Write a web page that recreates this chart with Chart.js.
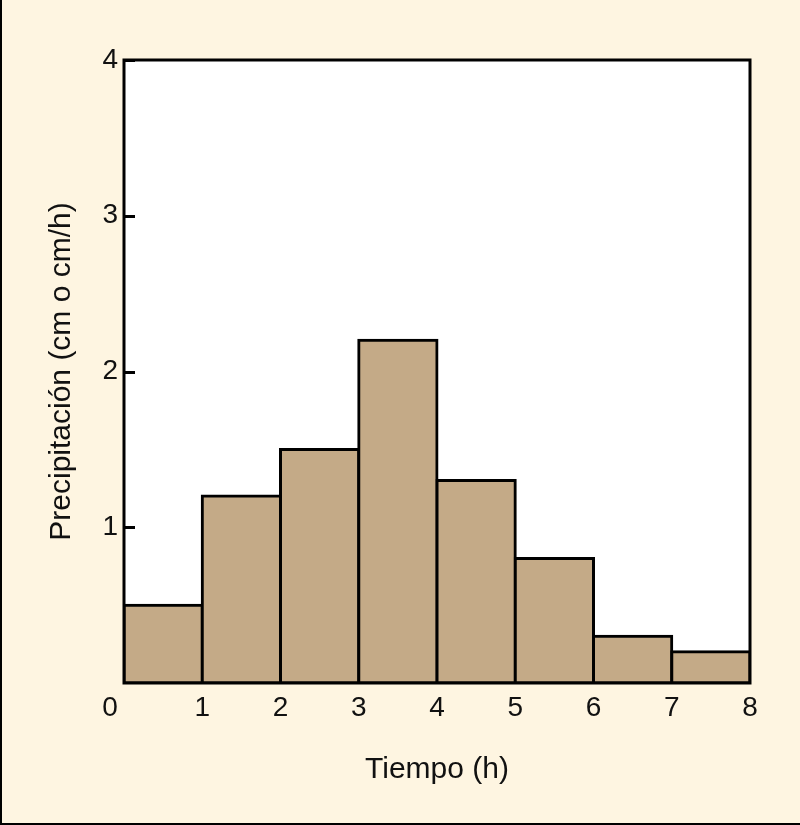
<!DOCTYPE html>
<html>
<head>
<meta charset="utf-8">
<script src="https://cdn.jsdelivr.net/npm/chart.js@4/dist/chart.umd.min.js"></script>
<style>
  html, body { margin: 0; padding: 0; background: #FEF5E1; }
  #wrap { width: 800px; height: 825px; }
</style>
</head>
<body>
<div id="wrap"><canvas id="rainChart" width="800" height="825"></canvas></div>
<script>
// datos del hietograma
const horas = [0.5, 1.5, 2.5, 3.5, 4.5, 5.5, 6.5, 7.5];   // centro de cada intervalo (h)
const precipitacion = [0.5, 1.2, 1.5, 2.2, 1.3, 0.8, 0.3, 0.2];
const ticksX = [0, 1, 2, 3, 4, 5, 6, 7, 8];
const ticksY = [1, 2, 3, 4];

const FONT = '"Liberation Sans", Arial, Helvetica, sans-serif';
const CREMA = '#FEF5E1';
const BARRA = '#C4AA87';

// fondo crema, area blanca, marco exterior y marcas hacia dentro
const fondoPlugin = {
  id: 'fondo',
  beforeDraw(chart) {
    const { ctx, chartArea: a, width, height } = chart;
    ctx.save();
    ctx.fillStyle = CREMA;
    ctx.fillRect(0, 0, width, height);
    ctx.fillStyle = '#ffffff';
    ctx.fillRect(a.left, a.top, a.right - a.left, a.bottom - a.top);
    ctx.strokeStyle = '#000';
    ctx.lineWidth = 2;
    ctx.beginPath();
    ctx.moveTo(1, 0);
    ctx.lineTo(1, height - 1);
    ctx.lineTo(width, height - 1);
    ctx.stroke();
    ctx.restore();
  },
  afterDatasetsDraw(chart) {
    const { ctx, chartArea: a } = chart;
    const y = chart.scales.y;
    ctx.save();
    ctx.strokeStyle = '#000';
    ctx.lineWidth = 3;
    ctx.beginPath();
    ticksY.forEach(v => {
      const py = Math.round(y.getPixelForValue(v)) + 0.5;
      ctx.moveTo(a.left, py);
      ctx.lineTo(a.left + 11, py);
    });
    ctx.stroke();
    ctx.strokeRect(a.left, a.top, a.right - a.left, a.bottom - a.top);
    ctx.restore();
  }
};

const ctx = document.getElementById('rainChart').getContext('2d');
new Chart(ctx, {
  type: 'bar',
  data: {
    datasets: [{
      data: horas.map((h, i) => ({ x: h, y: precipitacion[i] })),
      backgroundColor: BARRA,
      borderColor: '#000',
      borderWidth: 3,
      borderSkipped: false,
      inflateAmount: 1.5,
      barPercentage: 1,
      categoryPercentage: 1
    }]
  },
  options: {
    responsive: false,
    animation: false,
    events: [],
    layout: { padding: { top: 60, right: 50, left: 0, bottom: 0 } },
    plugins: { legend: { display: false }, tooltip: { enabled: false } },
    scales: {
      x: {
        type: 'linear',
        offset: false,
        min: 0,
        max: 8,
        afterBuildTicks: s => { s.ticks = ticksX.map(v => ({ value: v })); },
        afterFit: s => { s.height = 142; },
        grid: { display: false, drawTicks: false },
        border: { display: false },
        ticks: {
          color: '#111',
          font: { family: FONT, size: 28 },
          padding: 8,
          maxRotation: 0,
          autoSkip: false,
          callback: v => v === 0 ? '0\u2002\u2002' : String(v)
        },
        title: {
          display: true,
          text: 'Tiempo (h)',
          color: '#111',
          font: { family: FONT, size: 30 },
          padding: { top: 0, bottom: 37 }
        }
      },
      y: {
        min: 0,
        max: 4,
        afterBuildTicks: s => { s.ticks = ticksY.map(v => ({ value: v })); },
        afterFit: s => { s.width = 124; },
        grid: { display: false, drawTicks: false },
        border: { display: false },
        ticks: {
          color: '#111',
          font: { family: FONT, size: 28 },
          padding: 6
        },
        title: {
          display: true,
          text: 'Precipitación (cm o cm/h)',
          color: '#111',
          font: { family: FONT, size: 30 },
          padding: { top: 44, bottom: 0 }
        }
      }
    }
  },
  plugins: [fondoPlugin]
});
</script>
</body>
</html>
